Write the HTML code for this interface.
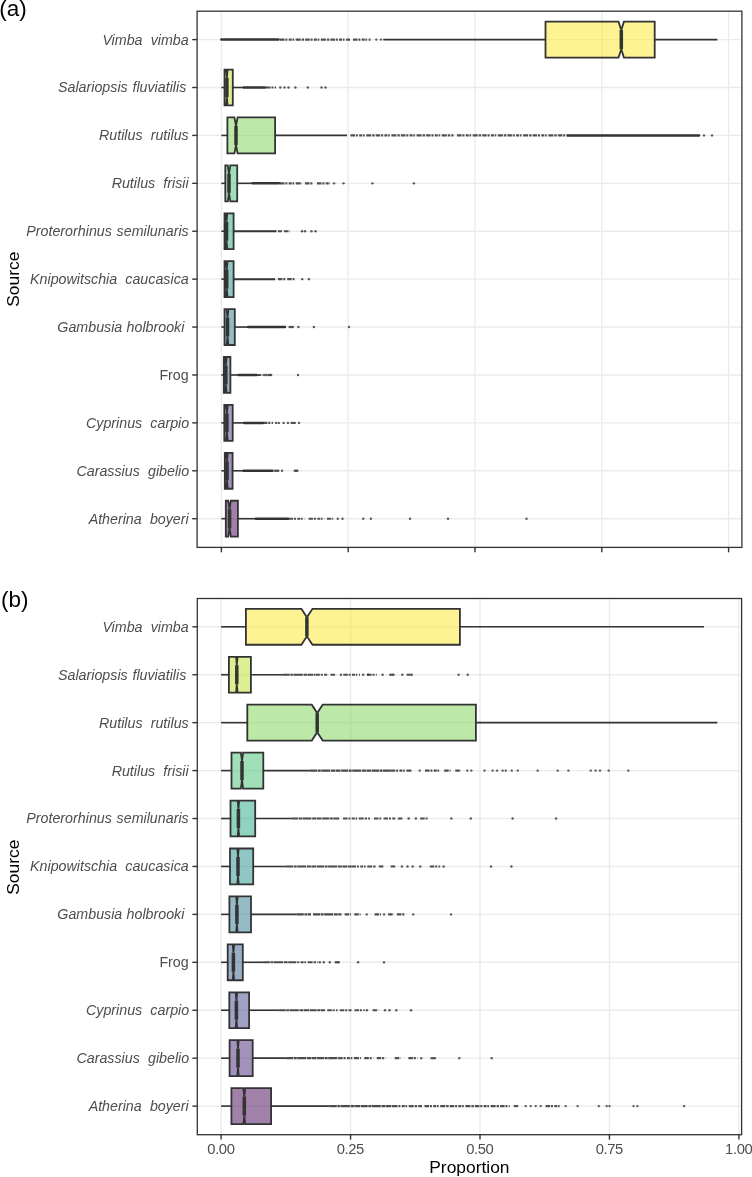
<!DOCTYPE html>
<html><head><meta charset="utf-8"><style>
html,body{margin:0;padding:0;background:#fff;width:752px;height:1177px;overflow:hidden}
svg{display:block;will-change:transform}
text{font-family:"Liberation Sans",sans-serif}
.g line{stroke:#EBEBEB;stroke-width:1.4}
.dn{stroke:#333;stroke-opacity:0.88;stroke-width:2.1;stroke-dasharray:7 0.6 3 0.5 9 0.7 4 0.5 5 0.6}
.ds{stroke:#333;stroke-opacity:0.85;stroke-width:2.1;stroke-dasharray:4.5 0.9 2 1.3 3 0.8 1.6 1.6 5 1 2.4 1.1}
.dt{fill:#333;fill-opacity:0.8}
.dn2{stroke:#333;stroke-width:2.5;stroke-linecap:round}
.w{stroke:#333;stroke-width:1.6}
.bx{stroke:#333;stroke-width:1.8;stroke-linejoin:miter}
.md{stroke:#333;stroke-width:3.5}
.fr{fill:none;stroke:#333;stroke-width:1.3}
.tk{stroke:#333;stroke-width:1.4}
.yl{font-size:14.25px;font-style:italic;fill:#4D4D4D;text-anchor:end}
.yl.up{font-style:normal}
.xl{font-size:14.8px;letter-spacing:-0.4px;fill:#4D4D4D;text-anchor:middle}
.ti{font-size:17.4px;fill:#000}
.pl2{font-size:22.5px;fill:#000}
</style></head><body>
<svg width="752" height="1177" viewBox="0 0 752 1177">
<rect width="752" height="1177" fill="#fff"/>
<g class="g">
<line x1="221.4" y1="11.2" x2="221.4" y2="547.4"/>
<line x1="348.2" y1="11.2" x2="348.2" y2="547.4"/>
<line x1="475" y1="11.2" x2="475" y2="547.4"/>
<line x1="601.8" y1="11.2" x2="601.8" y2="547.4"/>
<line x1="728.6" y1="11.2" x2="728.6" y2="547.4"/>
<line x1="197.1" y1="39.6" x2="741.9" y2="39.6"/>
<line x1="197.1" y1="87.51" x2="741.9" y2="87.51"/>
<line x1="197.1" y1="135.42" x2="741.9" y2="135.42"/>
<line x1="197.1" y1="183.33" x2="741.9" y2="183.33"/>
<line x1="197.1" y1="231.24" x2="741.9" y2="231.24"/>
<line x1="197.1" y1="279.15" x2="741.9" y2="279.15"/>
<line x1="197.1" y1="327.06" x2="741.9" y2="327.06"/>
<line x1="197.1" y1="374.97" x2="741.9" y2="374.97"/>
<line x1="197.1" y1="422.88" x2="741.9" y2="422.88"/>
<line x1="197.1" y1="470.79" x2="741.9" y2="470.79"/>
<line x1="197.1" y1="518.7" x2="741.9" y2="518.7"/>
</g>
<line x1="221.4" y1="39.6" x2="278.5" y2="39.6" class="dn2"/>
<line x1="280" y1="39.6" x2="350" y2="39.6" class="ds"/>
<line x1="353" y1="39.6" x2="370.5" y2="39.6" class="ds"/>
<circle cx="376.3" cy="39.6" r="1.2" class="dt"/>
<circle cx="380.9" cy="39.6" r="1.2" class="dt"/>
<line x1="383.2" y1="39.6" x2="545.5" y2="39.6" class="w"/>
<line x1="654.7" y1="39.6" x2="717.4" y2="39.6" class="w"/>
<polygon points="545.5,21.65 618.5,21.65 621.3,30.05 623.9,21.65 654.7,21.65 654.7,57.55 623.9,57.55 621.3,49.15 618.5,57.55 545.5,57.55" fill="#FDE725" fill-opacity="0.5" class="bx"/>
<line x1="621.3" y1="30.05" x2="621.3" y2="49.15" class="md"/>
<line x1="244" y1="87.51" x2="265" y2="87.51" class="dn2"/>
<line x1="266" y1="87.51" x2="276" y2="87.51" class="ds"/>
<circle cx="280.3" cy="87.51" r="1.2" class="dt"/>
<circle cx="284.5" cy="87.51" r="1.2" class="dt"/>
<circle cx="288.5" cy="87.51" r="1.2" class="dt"/>
<circle cx="295.4" cy="87.51" r="1.2" class="dt"/>
<circle cx="307.8" cy="87.51" r="1.2" class="dt"/>
<circle cx="321.5" cy="87.51" r="1.2" class="dt"/>
<circle cx="325.5" cy="87.51" r="1.2" class="dt"/>
<line x1="221.4" y1="87.51" x2="224.5" y2="87.51" class="w"/>
<line x1="232.8" y1="87.51" x2="244" y2="87.51" class="w"/>
<polygon points="224.5,69.56 226.2,69.56 226.9,77.96 227.6,69.56 232.8,69.56 232.8,105.46 227.6,105.46 226.9,97.06 226.2,105.46 224.5,105.46" fill="#BBDF27" fill-opacity="0.5" class="bx"/>
<line x1="226.9" y1="77.96" x2="226.9" y2="97.06" class="md"/>
<line x1="568" y1="135.42" x2="699" y2="135.42" class="dn2"/>
<line x1="350.5" y1="135.42" x2="453.5" y2="135.42" class="ds"/>
<line x1="457" y1="135.42" x2="568" y2="135.42" class="ds"/>
<circle cx="704" cy="135.42" r="1.2" class="dt"/>
<circle cx="712" cy="135.42" r="1.2" class="dt"/>
<line x1="221.4" y1="135.42" x2="227.4" y2="135.42" class="w"/>
<line x1="275.1" y1="135.42" x2="347" y2="135.42" class="w"/>
<polygon points="227.4,117.47 234.4,117.47 236,125.87 237.6,117.47 275.1,117.47 275.1,153.37 237.6,153.37 236,144.97 234.4,153.37 227.4,153.37" fill="#7AD151" fill-opacity="0.5" class="bx"/>
<line x1="236" y1="125.87" x2="236" y2="144.97" class="md"/>
<line x1="252.5" y1="183.33" x2="279" y2="183.33" class="dn2"/>
<line x1="280" y1="183.33" x2="302" y2="183.33" class="ds"/>
<line x1="305" y1="183.33" x2="313" y2="183.33" class="ds"/>
<line x1="317" y1="183.33" x2="330" y2="183.33" class="ds"/>
<circle cx="334" cy="183.33" r="1.2" class="dt"/>
<circle cx="343.5" cy="183.33" r="1.2" class="dt"/>
<circle cx="372.4" cy="183.33" r="1.2" class="dt"/>
<circle cx="413.9" cy="183.33" r="1.2" class="dt"/>
<line x1="221.4" y1="183.33" x2="225.3" y2="183.33" class="w"/>
<line x1="237.2" y1="183.33" x2="252.5" y2="183.33" class="w"/>
<polygon points="225.3,165.38 227.8,165.38 229,173.78 230.3,165.38 237.2,165.38 237.2,201.28 230.3,201.28 229,192.88 227.8,201.28 225.3,201.28" fill="#43BF71" fill-opacity="0.5" class="bx"/>
<line x1="229" y1="173.78" x2="229" y2="192.88" class="md"/>
<line x1="277.9" y1="231.24" x2="281.9" y2="231.24" class="ds"/>
<line x1="283.9" y1="231.24" x2="289.8" y2="231.24" class="ds"/>
<circle cx="302" cy="231.24" r="1.2" class="dt"/>
<circle cx="305" cy="231.24" r="1.2" class="dt"/>
<circle cx="311.5" cy="231.24" r="1.2" class="dt"/>
<circle cx="315.5" cy="231.24" r="1.2" class="dt"/>
<line x1="221.4" y1="231.24" x2="224.5" y2="231.24" class="w"/>
<line x1="233.6" y1="231.24" x2="276.5" y2="231.24" class="w" style="stroke-width:2.2px"/>
<polygon points="224.5,213.29 225.8,213.29 226.5,221.69 227.3,213.29 233.6,213.29 233.6,249.19 227.3,249.19 226.5,240.79 225.8,249.19 224.5,249.19" fill="#22A884" fill-opacity="0.5" class="bx"/>
<line x1="226.5" y1="221.69" x2="226.5" y2="240.79" class="md"/>
<line x1="277.9" y1="279.15" x2="285.9" y2="279.15" class="ds"/>
<line x1="287.2" y1="279.15" x2="294.5" y2="279.15" class="ds"/>
<circle cx="302.2" cy="279.15" r="1.2" class="dt"/>
<circle cx="308.9" cy="279.15" r="1.2" class="dt"/>
<line x1="221.4" y1="279.15" x2="224.5" y2="279.15" class="w"/>
<line x1="233.6" y1="279.15" x2="275.2" y2="279.15" class="w" style="stroke-width:2.0px"/>
<polygon points="224.5,261.2 225.9,261.2 226.7,269.6 227.6,261.2 233.6,261.2 233.6,297.1 227.6,297.1 226.7,288.7 225.9,297.1 224.5,297.1" fill="#21908C" fill-opacity="0.5" class="bx"/>
<line x1="226.7" y1="269.6" x2="226.7" y2="288.7" class="md"/>
<line x1="248.2" y1="327.06" x2="285" y2="327.06" class="dn2"/>
<circle cx="289.6" cy="327.06" r="1.2" class="dt"/>
<circle cx="291.2" cy="327.06" r="1.2" class="dt"/>
<circle cx="292.8" cy="327.06" r="1.2" class="dt"/>
<circle cx="298.4" cy="327.06" r="1.2" class="dt"/>
<circle cx="313.9" cy="327.06" r="1.2" class="dt"/>
<circle cx="349" cy="327.06" r="1.2" class="dt"/>
<line x1="221.4" y1="327.06" x2="224.5" y2="327.06" class="w"/>
<line x1="234.8" y1="327.06" x2="248.2" y2="327.06" class="w"/>
<polygon points="224.5,309.11 226.6,309.11 227.5,317.51 228.4,309.11 234.8,309.11 234.8,345.01 228.4,345.01 227.5,336.61 226.6,345.01 224.5,345.01" fill="#2A788E" fill-opacity="0.5" class="bx"/>
<line x1="227.5" y1="317.51" x2="227.5" y2="336.61" class="md"/>
<line x1="238.6" y1="374.97" x2="256.5" y2="374.97" class="dn2"/>
<line x1="256.7" y1="374.97" x2="262.6" y2="374.97" class="ds"/>
<circle cx="264.2" cy="374.97" r="1.2" class="dt"/>
<circle cx="266.3" cy="374.97" r="1.2" class="dt"/>
<circle cx="268.4" cy="374.97" r="1.2" class="dt"/>
<circle cx="270" cy="374.97" r="1.2" class="dt"/>
<circle cx="271.1" cy="374.97" r="1.2" class="dt"/>
<circle cx="298" cy="374.97" r="1.2" class="dt"/>
<line x1="221.4" y1="374.97" x2="223.8" y2="374.97" class="w"/>
<line x1="230.4" y1="374.97" x2="238.6" y2="374.97" class="w"/>
<polygon points="223.8,357.02 225,357.02 225.8,365.42 226.7,357.02 230.4,357.02 230.4,392.92 226.7,392.92 225.8,384.52 225,392.92 223.8,392.92" fill="#35608D" fill-opacity="0.5" class="bx"/>
<line x1="225.8" y1="365.42" x2="225.8" y2="384.52" class="md"/>
<line x1="244.2" y1="422.88" x2="262.9" y2="422.88" class="dn2"/>
<line x1="262.9" y1="422.88" x2="273" y2="422.88" class="ds"/>
<circle cx="276.1" cy="422.88" r="1.2" class="dt"/>
<circle cx="278.8" cy="422.88" r="1.2" class="dt"/>
<circle cx="283.6" cy="422.88" r="1.2" class="dt"/>
<circle cx="287.9" cy="422.88" r="1.2" class="dt"/>
<circle cx="291.6" cy="422.88" r="1.2" class="dt"/>
<circle cx="293.2" cy="422.88" r="1.2" class="dt"/>
<circle cx="294.8" cy="422.88" r="1.2" class="dt"/>
<circle cx="299" cy="422.88" r="1.2" class="dt"/>
<line x1="221.4" y1="422.88" x2="224.3" y2="422.88" class="w"/>
<line x1="232.7" y1="422.88" x2="244.2" y2="422.88" class="w"/>
<polygon points="224.3,404.93 226,404.93 226.9,413.33 227.8,404.93 232.7,404.93 232.7,440.83 227.8,440.83 226.9,432.43 226,440.83 224.3,440.83" fill="#414487" fill-opacity="0.5" class="bx"/>
<line x1="226.9" y1="413.33" x2="226.9" y2="432.43" class="md"/>
<line x1="243.7" y1="470.79" x2="272.5" y2="470.79" class="dn2"/>
<circle cx="275.1" cy="470.79" r="1.2" class="dt"/>
<circle cx="276.7" cy="470.79" r="1.2" class="dt"/>
<circle cx="278.3" cy="470.79" r="1.2" class="dt"/>
<circle cx="282" cy="470.79" r="1.2" class="dt"/>
<circle cx="294.8" cy="470.79" r="1.2" class="dt"/>
<circle cx="296.1" cy="470.79" r="1.2" class="dt"/>
<circle cx="297.4" cy="470.79" r="1.2" class="dt"/>
<line x1="221.4" y1="470.79" x2="224.8" y2="470.79" class="w"/>
<line x1="232.6" y1="470.79" x2="243.7" y2="470.79" class="w"/>
<polygon points="224.8,452.84 226.3,452.84 227,461.24 227.8,452.84 232.6,452.84 232.6,488.74 227.8,488.74 227,480.34 226.3,488.74 224.8,488.74" fill="#482576" fill-opacity="0.5" class="bx"/>
<line x1="227" y1="461.24" x2="227" y2="480.34" class="md"/>
<line x1="255.9" y1="518.7" x2="288" y2="518.7" class="dn2"/>
<line x1="288.6" y1="518.7" x2="304.6" y2="518.7" class="ds"/>
<line x1="308.6" y1="518.7" x2="324.5" y2="518.7" class="ds"/>
<line x1="326.9" y1="518.7" x2="333.3" y2="518.7" class="ds"/>
<circle cx="337.8" cy="518.7" r="1.2" class="dt"/>
<circle cx="342.5" cy="518.7" r="1.2" class="dt"/>
<circle cx="363.3" cy="518.7" r="1.2" class="dt"/>
<circle cx="370.9" cy="518.7" r="1.2" class="dt"/>
<circle cx="410" cy="518.7" r="1.2" class="dt"/>
<circle cx="448" cy="518.7" r="1.2" class="dt"/>
<circle cx="526.5" cy="518.7" r="1.2" class="dt"/>
<line x1="221.4" y1="518.7" x2="225.8" y2="518.7" class="w"/>
<line x1="237.9" y1="518.7" x2="255.9" y2="518.7" class="w"/>
<polygon points="225.8,500.75 228.2,500.75 229.6,509.15 230.8,500.75 237.9,500.75 237.9,536.65 230.8,536.65 229.6,528.25 228.2,536.65 225.8,536.65" fill="#440154" fill-opacity="0.5" class="bx"/>
<line x1="229.6" y1="509.15" x2="229.6" y2="528.25" class="md"/>
<rect x="197.1" y="11.2" width="544.8" height="536.2" class="fr"/>
<line x1="192.2" y1="39.6" x2="197.1" y2="39.6" class="tk"/>
<text x="188.7" y="44.55" class="yl" style="word-spacing:4.2px">Vimba vimba</text>
<line x1="192.2" y1="87.51" x2="197.1" y2="87.51" class="tk"/>
<text x="186.3" y="92.46" class="yl" style="word-spacing:0.8px">Salariopsis fluviatilis</text>
<line x1="192.2" y1="135.42" x2="197.1" y2="135.42" class="tk"/>
<text x="188.7" y="140.37" class="yl" style="word-spacing:4.2px">Rutilus rutilus</text>
<line x1="192.2" y1="183.33" x2="197.1" y2="183.33" class="tk"/>
<text x="188.7" y="188.28" class="yl" style="word-spacing:4.2px">Rutilus frisii</text>
<line x1="192.2" y1="231.24" x2="197.1" y2="231.24" class="tk"/>
<text x="188.7" y="236.19" class="yl" style="word-spacing:0.8px">Proterorhinus semilunaris</text>
<line x1="192.2" y1="279.15" x2="197.1" y2="279.15" class="tk"/>
<text x="188.7" y="284.1" class="yl" style="word-spacing:4.2px">Knipowitschia caucasica</text>
<line x1="192.2" y1="327.06" x2="197.1" y2="327.06" class="tk"/>
<text x="184.4" y="332.01" class="yl" style="word-spacing:0.3px">Gambusia holbrooki</text>
<line x1="192.2" y1="374.97" x2="197.1" y2="374.97" class="tk"/>
<text x="188.7" y="379.92" class="yl up">Frog</text>
<line x1="192.2" y1="422.88" x2="197.1" y2="422.88" class="tk"/>
<text x="189.2" y="427.83" class="yl" style="word-spacing:4.2px">Cyprinus carpio</text>
<line x1="192.2" y1="470.79" x2="197.1" y2="470.79" class="tk"/>
<text x="189.2" y="475.74" class="yl" style="word-spacing:4.2px">Carassius gibelio</text>
<line x1="192.2" y1="518.7" x2="197.1" y2="518.7" class="tk"/>
<text x="188.7" y="523.65" class="yl" style="word-spacing:4.2px">Atherina boyeri</text>
<line x1="221.4" y1="547.4" x2="221.4" y2="552.3" class="tk"/>
<line x1="348.2" y1="547.4" x2="348.2" y2="552.3" class="tk"/>
<line x1="475" y1="547.4" x2="475" y2="552.3" class="tk"/>
<line x1="601.8" y1="547.4" x2="601.8" y2="552.3" class="tk"/>
<line x1="728.6" y1="547.4" x2="728.6" y2="552.3" class="tk"/>
<g class="g">
<line x1="221.1" y1="598.5" x2="221.1" y2="1134.7"/>
<line x1="350.55" y1="598.5" x2="350.55" y2="1134.7"/>
<line x1="480" y1="598.5" x2="480" y2="1134.7"/>
<line x1="609.45" y1="598.5" x2="609.45" y2="1134.7"/>
<line x1="738.9" y1="598.5" x2="738.9" y2="1134.7"/>
<line x1="197.3" y1="626.8" x2="741.6" y2="626.8"/>
<line x1="197.3" y1="674.73" x2="741.6" y2="674.73"/>
<line x1="197.3" y1="722.66" x2="741.6" y2="722.66"/>
<line x1="197.3" y1="770.59" x2="741.6" y2="770.59"/>
<line x1="197.3" y1="818.52" x2="741.6" y2="818.52"/>
<line x1="197.3" y1="866.45" x2="741.6" y2="866.45"/>
<line x1="197.3" y1="914.38" x2="741.6" y2="914.38"/>
<line x1="197.3" y1="962.31" x2="741.6" y2="962.31"/>
<line x1="197.3" y1="1010.24" x2="741.6" y2="1010.24"/>
<line x1="197.3" y1="1058.17" x2="741.6" y2="1058.17"/>
<line x1="197.3" y1="1106.1" x2="741.6" y2="1106.1"/>
</g>
<line x1="221.1" y1="626.8" x2="245.9" y2="626.8" class="w"/>
<line x1="459.9" y1="626.8" x2="704" y2="626.8" class="w"/>
<polygon points="245.9,608.85 301.4,608.85 306.9,617.25 312.5,608.85 459.9,608.85 459.9,644.75 312.5,644.75 306.9,636.35 301.4,644.75 245.9,644.75" fill="#FDE725" fill-opacity="0.5" class="bx"/>
<line x1="306.9" y1="617.25" x2="306.9" y2="636.35" class="md"/>
<line x1="282.7" y1="674.73" x2="315" y2="674.73" class="dn"/>
<line x1="315.4" y1="674.73" x2="328.1" y2="674.73" class="ds"/>
<line x1="330.5" y1="674.73" x2="336.1" y2="674.73" class="ds"/>
<line x1="343.3" y1="674.73" x2="360" y2="674.73" class="ds"/>
<line x1="367.2" y1="674.73" x2="376.7" y2="674.73" class="ds"/>
<circle cx="340.9" cy="674.73" r="1.2" class="dt"/>
<circle cx="363.2" cy="674.73" r="1.2" class="dt"/>
<circle cx="368" cy="674.73" r="1.2" class="dt"/>
<circle cx="382.6" cy="674.73" r="1.2" class="dt"/>
<circle cx="390.3" cy="674.73" r="1.2" class="dt"/>
<circle cx="392" cy="674.73" r="1.2" class="dt"/>
<circle cx="393.5" cy="674.73" r="1.2" class="dt"/>
<circle cx="402.3" cy="674.73" r="1.2" class="dt"/>
<circle cx="407.8" cy="674.73" r="1.2" class="dt"/>
<circle cx="409.8" cy="674.73" r="1.2" class="dt"/>
<circle cx="411.8" cy="674.73" r="1.2" class="dt"/>
<circle cx="458.6" cy="674.73" r="1.2" class="dt"/>
<circle cx="467.7" cy="674.73" r="1.2" class="dt"/>
<line x1="221.1" y1="674.73" x2="228.9" y2="674.73" class="w"/>
<line x1="250.9" y1="674.73" x2="282.7" y2="674.73" class="w"/>
<polygon points="228.9,656.78 236.1,656.78 236.8,665.18 237.6,656.78 250.9,656.78 250.9,692.68 237.6,692.68 236.8,684.28 236.1,692.68 228.9,692.68" fill="#BBDF27" fill-opacity="0.5" class="bx"/>
<line x1="236.8" y1="665.18" x2="236.8" y2="684.28" class="md"/>
<line x1="221.1" y1="722.66" x2="247.3" y2="722.66" class="w"/>
<line x1="475.9" y1="722.66" x2="717.3" y2="722.66" class="w"/>
<polygon points="247.3,704.71 311.8,704.71 317.2,713.11 322.7,704.71 475.9,704.71 475.9,740.61 322.7,740.61 317.2,732.21 311.8,740.61 247.3,740.61" fill="#7AD151" fill-opacity="0.5" class="bx"/>
<line x1="317.2" y1="713.11" x2="317.2" y2="732.21" class="md"/>
<line x1="310.2" y1="770.59" x2="390.7" y2="770.59" class="dn"/>
<line x1="390.7" y1="770.59" x2="412.3" y2="770.59" class="ds"/>
<line x1="425" y1="770.59" x2="440.2" y2="770.59" class="ds"/>
<line x1="444.2" y1="770.59" x2="450.5" y2="770.59" class="ds"/>
<line x1="455.3" y1="770.59" x2="460.9" y2="770.59" class="ds"/>
<circle cx="419.8" cy="770.59" r="1.2" class="dt"/>
<circle cx="467.3" cy="770.59" r="1.2" class="dt"/>
<circle cx="471.3" cy="770.59" r="1.2" class="dt"/>
<circle cx="484.5" cy="770.59" r="1.2" class="dt"/>
<circle cx="492.7" cy="770.59" r="1.2" class="dt"/>
<circle cx="497" cy="770.59" r="1.2" class="dt"/>
<circle cx="502.6" cy="770.59" r="1.2" class="dt"/>
<circle cx="505.8" cy="770.59" r="1.2" class="dt"/>
<circle cx="511.8" cy="770.59" r="1.2" class="dt"/>
<circle cx="517.8" cy="770.59" r="1.2" class="dt"/>
<circle cx="537.7" cy="770.59" r="1.2" class="dt"/>
<circle cx="557.7" cy="770.59" r="1.2" class="dt"/>
<circle cx="568.4" cy="770.59" r="1.2" class="dt"/>
<circle cx="590.8" cy="770.59" r="1.2" class="dt"/>
<circle cx="595.6" cy="770.59" r="1.2" class="dt"/>
<circle cx="600" cy="770.59" r="1.2" class="dt"/>
<circle cx="608.7" cy="770.59" r="1.2" class="dt"/>
<circle cx="628.3" cy="770.59" r="1.2" class="dt"/>
<line x1="221.1" y1="770.59" x2="231.5" y2="770.59" class="w"/>
<line x1="263.3" y1="770.59" x2="310.2" y2="770.59" class="w"/>
<polygon points="231.5,752.64 240.9,752.64 242,761.04 243.1,752.64 263.3,752.64 263.3,788.54 243.1,788.54 242,780.14 240.9,788.54 231.5,788.54" fill="#43BF71" fill-opacity="0.5" class="bx"/>
<line x1="242" y1="761.04" x2="242" y2="780.14" class="md"/>
<line x1="291.3" y1="818.52" x2="339.1" y2="818.52" class="dn"/>
<line x1="343" y1="818.52" x2="370" y2="818.52" class="ds"/>
<line x1="374" y1="818.52" x2="381.2" y2="818.52" class="ds"/>
<line x1="383.6" y1="818.52" x2="395.5" y2="818.52" class="ds"/>
<line x1="397.9" y1="818.52" x2="402.7" y2="818.52" class="ds"/>
<line x1="407.5" y1="818.52" x2="409.9" y2="818.52" class="ds"/>
<line x1="420.2" y1="818.52" x2="428.2" y2="818.52" class="ds"/>
<circle cx="415.9" cy="818.52" r="1.2" class="dt"/>
<circle cx="451.3" cy="818.52" r="1.2" class="dt"/>
<circle cx="470.8" cy="818.52" r="1.2" class="dt"/>
<circle cx="512.6" cy="818.52" r="1.2" class="dt"/>
<circle cx="556.1" cy="818.52" r="1.2" class="dt"/>
<line x1="221.1" y1="818.52" x2="230.5" y2="818.52" class="w"/>
<line x1="255.2" y1="818.52" x2="291.3" y2="818.52" class="w"/>
<polygon points="230.5,800.57 237.7,800.57 238.4,808.97 239.2,800.57 255.2,800.57 255.2,836.47 239.2,836.47 238.4,828.07 237.7,836.47 230.5,836.47" fill="#22A884" fill-opacity="0.5" class="bx"/>
<line x1="238.4" y1="808.97" x2="238.4" y2="828.07" class="md"/>
<line x1="286.1" y1="866.45" x2="351.5" y2="866.45" class="dn"/>
<line x1="351.5" y1="866.45" x2="376.4" y2="866.45" class="ds"/>
<line x1="378.8" y1="866.45" x2="383.6" y2="866.45" class="ds"/>
<line x1="390.7" y1="866.45" x2="395.5" y2="866.45" class="ds"/>
<line x1="429.8" y1="866.45" x2="440.2" y2="866.45" class="ds"/>
<circle cx="401.9" cy="866.45" r="1.2" class="dt"/>
<circle cx="407.5" cy="866.45" r="1.2" class="dt"/>
<circle cx="412.7" cy="866.45" r="1.2" class="dt"/>
<circle cx="420.2" cy="866.45" r="1.2" class="dt"/>
<circle cx="443.7" cy="866.45" r="1.2" class="dt"/>
<circle cx="491" cy="866.45" r="1.2" class="dt"/>
<circle cx="511.4" cy="866.45" r="1.2" class="dt"/>
<line x1="221.1" y1="866.45" x2="230" y2="866.45" class="w"/>
<line x1="253.2" y1="866.45" x2="286.1" y2="866.45" class="w"/>
<polygon points="230,848.5 237.3,848.5 238,856.9 238.7,848.5 253.2,848.5 253.2,884.4 238.7,884.4 238,876 237.3,884.4 230,884.4" fill="#21908C" fill-opacity="0.5" class="bx"/>
<line x1="238" y1="856.9" x2="238" y2="876" class="md"/>
<line x1="296.8" y1="914.38" x2="311" y2="914.38" class="dn"/>
<line x1="313" y1="914.38" x2="341.5" y2="914.38" class="dn"/>
<line x1="344.7" y1="914.38" x2="351" y2="914.38" class="ds"/>
<line x1="354.3" y1="914.38" x2="360.6" y2="914.38" class="ds"/>
<line x1="374.6" y1="914.38" x2="381" y2="914.38" class="ds"/>
<line x1="388.1" y1="914.38" x2="393.7" y2="914.38" class="ds"/>
<line x1="396.9" y1="914.38" x2="404.9" y2="914.38" class="ds"/>
<circle cx="366.7" cy="914.38" r="1.2" class="dt"/>
<circle cx="384.1" cy="914.38" r="1.2" class="dt"/>
<circle cx="413.2" cy="914.38" r="1.2" class="dt"/>
<circle cx="451.1" cy="914.38" r="1.2" class="dt"/>
<line x1="221.1" y1="914.38" x2="229.4" y2="914.38" class="w"/>
<line x1="251" y1="914.38" x2="296.8" y2="914.38" class="w"/>
<polygon points="229.4,896.43 236.2,896.43 236.9,904.83 237.6,896.43 251,896.43 251,932.33 237.6,932.33 236.9,923.93 236.2,932.33 229.4,932.33" fill="#2A788E" fill-opacity="0.5" class="bx"/>
<line x1="236.9" y1="904.83" x2="236.9" y2="923.93" class="md"/>
<line x1="262.9" y1="962.31" x2="291.9" y2="962.31" class="dn"/>
<line x1="291.9" y1="962.31" x2="317.8" y2="962.31" class="ds"/>
<circle cx="319.8" cy="962.31" r="1.2" class="dt"/>
<circle cx="323.8" cy="962.31" r="1.2" class="dt"/>
<circle cx="329.8" cy="962.31" r="1.2" class="dt"/>
<circle cx="335.8" cy="962.31" r="1.2" class="dt"/>
<circle cx="337.3" cy="962.31" r="1.2" class="dt"/>
<circle cx="338.8" cy="962.31" r="1.2" class="dt"/>
<circle cx="358.1" cy="962.31" r="1.2" class="dt"/>
<circle cx="384" cy="962.31" r="1.2" class="dt"/>
<line x1="221.1" y1="962.31" x2="227.7" y2="962.31" class="w"/>
<line x1="242.8" y1="962.31" x2="262.9" y2="962.31" class="w"/>
<polygon points="227.7,944.36 232.7,944.36 233.4,952.76 234.2,944.36 242.8,944.36 242.8,980.26 234.2,980.26 233.4,971.86 232.7,980.26 227.7,980.26" fill="#35608D" fill-opacity="0.5" class="bx"/>
<line x1="233.4" y1="952.76" x2="233.4" y2="971.86" class="md"/>
<line x1="278.7" y1="1010.24" x2="325" y2="1010.24" class="dn"/>
<line x1="327.3" y1="1010.24" x2="337.5" y2="1010.24" class="ds"/>
<line x1="339.8" y1="1010.24" x2="352.2" y2="1010.24" class="ds"/>
<line x1="354.5" y1="1010.24" x2="364.6" y2="1010.24" class="ds"/>
<line x1="372.6" y1="1010.24" x2="378.2" y2="1010.24" class="ds"/>
<circle cx="366.9" cy="1010.24" r="1.2" class="dt"/>
<circle cx="385" cy="1010.24" r="1.2" class="dt"/>
<circle cx="389.5" cy="1010.24" r="1.2" class="dt"/>
<circle cx="396.3" cy="1010.24" r="1.2" class="dt"/>
<circle cx="411" cy="1010.24" r="1.2" class="dt"/>
<line x1="221.1" y1="1010.24" x2="229.3" y2="1010.24" class="w"/>
<line x1="249.1" y1="1010.24" x2="278.7" y2="1010.24" class="w"/>
<polygon points="229.3,992.29 235.7,992.29 236.4,1000.69 237.2,992.29 249.1,992.29 249.1,1028.19 237.2,1028.19 236.4,1019.79 235.7,1028.19 229.3,1028.19" fill="#414487" fill-opacity="0.5" class="bx"/>
<line x1="236.4" y1="1000.69" x2="236.4" y2="1019.79" class="md"/>
<line x1="286.2" y1="1058.17" x2="338.2" y2="1058.17" class="dn"/>
<line x1="338.2" y1="1058.17" x2="360.9" y2="1058.17" class="ds"/>
<line x1="364.3" y1="1058.17" x2="373.3" y2="1058.17" class="ds"/>
<line x1="376.7" y1="1058.17" x2="385.7" y2="1058.17" class="ds"/>
<line x1="394.8" y1="1058.17" x2="400.5" y2="1058.17" class="ds"/>
<line x1="408.4" y1="1058.17" x2="417.4" y2="1058.17" class="ds"/>
<circle cx="421.2" cy="1058.17" r="1.2" class="dt"/>
<circle cx="431.6" cy="1058.17" r="1.2" class="dt"/>
<circle cx="433.2" cy="1058.17" r="1.2" class="dt"/>
<circle cx="434.9" cy="1058.17" r="1.2" class="dt"/>
<circle cx="459.3" cy="1058.17" r="1.2" class="dt"/>
<circle cx="491.7" cy="1058.17" r="1.2" class="dt"/>
<line x1="221.1" y1="1058.17" x2="229.6" y2="1058.17" class="w"/>
<line x1="252.7" y1="1058.17" x2="286.2" y2="1058.17" class="w"/>
<polygon points="229.6,1040.22 237.3,1040.22 238,1048.62 238.7,1040.22 252.7,1040.22 252.7,1076.12 238.7,1076.12 238,1067.72 237.3,1076.12 229.6,1076.12" fill="#482576" fill-opacity="0.5" class="bx"/>
<line x1="238" y1="1048.62" x2="238" y2="1067.72" class="md"/>
<line x1="329.8" y1="1106.1" x2="393" y2="1106.1" class="dn"/>
<line x1="393" y1="1106.1" x2="422" y2="1106.1" class="ds"/>
<line x1="424.5" y1="1106.1" x2="509.7" y2="1106.1" class="ds"/>
<line x1="513.7" y1="1106.1" x2="518.7" y2="1106.1" class="ds"/>
<line x1="545.6" y1="1106.1" x2="559.6" y2="1106.1" class="ds"/>
<circle cx="525.7" cy="1106.1" r="1.2" class="dt"/>
<circle cx="530.7" cy="1106.1" r="1.2" class="dt"/>
<circle cx="535.7" cy="1106.1" r="1.2" class="dt"/>
<circle cx="540.7" cy="1106.1" r="1.2" class="dt"/>
<circle cx="565.6" cy="1106.1" r="1.2" class="dt"/>
<circle cx="577.6" cy="1106.1" r="1.2" class="dt"/>
<circle cx="598.8" cy="1106.1" r="1.2" class="dt"/>
<circle cx="606.7" cy="1106.1" r="1.2" class="dt"/>
<circle cx="609.5" cy="1106.1" r="1.2" class="dt"/>
<circle cx="633.5" cy="1106.1" r="1.2" class="dt"/>
<circle cx="637.4" cy="1106.1" r="1.2" class="dt"/>
<circle cx="684.1" cy="1106.1" r="1.2" class="dt"/>
<line x1="221.1" y1="1106.1" x2="231.4" y2="1106.1" class="w"/>
<line x1="271.1" y1="1106.1" x2="329.8" y2="1106.1" class="w"/>
<polygon points="231.4,1088.15 243.3,1088.15 244.3,1096.55 245.2,1088.15 271.1,1088.15 271.1,1124.05 245.2,1124.05 244.3,1115.65 243.3,1124.05 231.4,1124.05" fill="#440154" fill-opacity="0.5" class="bx"/>
<line x1="244.3" y1="1096.55" x2="244.3" y2="1115.65" class="md"/>
<rect x="197.3" y="598.5" width="544.3" height="536.2" class="fr"/>
<line x1="192.4" y1="626.8" x2="197.3" y2="626.8" class="tk"/>
<text x="188.7" y="631.75" class="yl" style="word-spacing:4.2px">Vimba vimba</text>
<line x1="192.4" y1="674.73" x2="197.3" y2="674.73" class="tk"/>
<text x="186.3" y="679.68" class="yl" style="word-spacing:0.8px">Salariopsis fluviatilis</text>
<line x1="192.4" y1="722.66" x2="197.3" y2="722.66" class="tk"/>
<text x="188.7" y="727.61" class="yl" style="word-spacing:4.2px">Rutilus rutilus</text>
<line x1="192.4" y1="770.59" x2="197.3" y2="770.59" class="tk"/>
<text x="188.7" y="775.54" class="yl" style="word-spacing:4.2px">Rutilus frisii</text>
<line x1="192.4" y1="818.52" x2="197.3" y2="818.52" class="tk"/>
<text x="188.7" y="823.47" class="yl" style="word-spacing:0.8px">Proterorhinus semilunaris</text>
<line x1="192.4" y1="866.45" x2="197.3" y2="866.45" class="tk"/>
<text x="188.7" y="871.4" class="yl" style="word-spacing:4.2px">Knipowitschia caucasica</text>
<line x1="192.4" y1="914.38" x2="197.3" y2="914.38" class="tk"/>
<text x="184.4" y="919.33" class="yl" style="word-spacing:0.3px">Gambusia holbrooki</text>
<line x1="192.4" y1="962.31" x2="197.3" y2="962.31" class="tk"/>
<text x="188.7" y="967.26" class="yl up">Frog</text>
<line x1="192.4" y1="1010.24" x2="197.3" y2="1010.24" class="tk"/>
<text x="189.2" y="1015.19" class="yl" style="word-spacing:4.2px">Cyprinus carpio</text>
<line x1="192.4" y1="1058.17" x2="197.3" y2="1058.17" class="tk"/>
<text x="189.2" y="1063.12" class="yl" style="word-spacing:4.2px">Carassius gibelio</text>
<line x1="192.4" y1="1106.1" x2="197.3" y2="1106.1" class="tk"/>
<text x="188.7" y="1111.05" class="yl" style="word-spacing:4.2px">Atherina boyeri</text>
<line x1="221.1" y1="1134.7" x2="221.1" y2="1139.6" class="tk"/>
<text x="220.9" y="1153.7" class="xl">0.00</text>
<line x1="350.55" y1="1134.7" x2="350.55" y2="1139.6" class="tk"/>
<text x="350.35" y="1153.7" class="xl">0.25</text>
<line x1="480" y1="1134.7" x2="480" y2="1139.6" class="tk"/>
<text x="479.8" y="1153.7" class="xl">0.50</text>
<line x1="609.45" y1="1134.7" x2="609.45" y2="1139.6" class="tk"/>
<text x="609.25" y="1153.7" class="xl">0.75</text>
<line x1="738.9" y1="1134.7" x2="738.9" y2="1139.6" class="tk"/>
<text x="738.7" y="1153.7" class="xl">1.00</text>
<text x="469.4" y="1173.4" class="ti" text-anchor="middle">Proportion</text>
<text transform="translate(18.8,279.2) rotate(-90)" class="ti" text-anchor="middle">Source</text>
<text transform="translate(18.8,867.2) rotate(-90)" class="ti" text-anchor="middle">Source</text>
<text x="-0.7" y="15.7" class="pl2">(a)</text>
<text x="1.1" y="606.6" class="pl2">(b)</text>
</svg>
</body></html>
